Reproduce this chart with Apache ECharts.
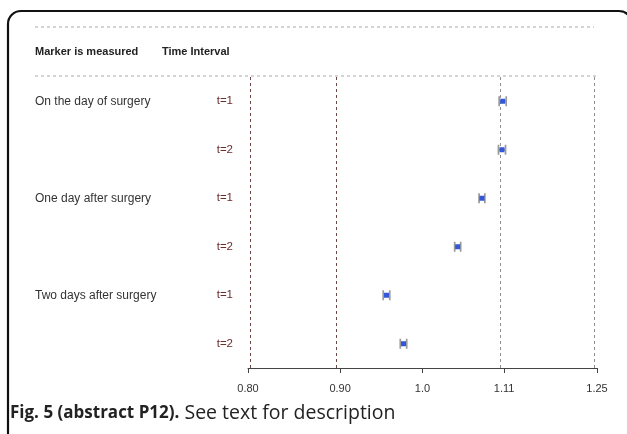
<!DOCTYPE html>
<html><head><meta charset="utf-8">
<script src="https://cdn.jsdelivr.net/npm/echarts@6/dist/echarts.min.js"></script>
<style>html,body{margin:0;padding:0;background:#fff}#c{width:627px;height:434px}</style>
</head><body><div id="c"></div>
<script>
// ---- data ----
const groups = ['On the day of surgery', '', 'One day after surgery', '', 'Two days after surgery', ''];
const intervals = ['t=1', 't=2', 't=1', 't=2', 't=1', 't=2'];
const estimates = [1.108, 1.107, 1.079, 1.046, 0.955, 0.976];
const lowers = [1.103, 1.102, 1.075, 1.042, 0.951, 0.972];
const uppers = [1.113, 1.112, 1.083, 1.050, 0.959, 0.980];
const tickValues = [0.80, 0.90, 1.0, 1.11, 1.25];
const tickLabels = ['0.80', '0.90', '1.0', '1.11', '1.25'];
const refLines = [0.80, 0.90, 1.11, 1.25];
const headers = ['Marker is measured', 'Time Interval'];
const caption = ['Fig. 5 (abstract P12).', ' See text for description'];

const L = Math.log;
const tickLn = tickValues.map(L);
const seriesData = estimates.map((e, i) => [L(e), i, L(lowers[i]), L(uppers[i])]);

const chart = echarts.init(document.getElementById('c'), null, {renderer: 'canvas'});
const FONT = '"Liberation Sans", Arial, sans-serif';
chart.setOption({
  animation: false,
  grid: {left: 248, right: 30, top: 77, bottom: 66, outerBoundsMode: 'none', containLabel: false},
  xAxis: {
    type: 'value', min: L(0.8), max: L(1.25),
    axisLine: {show: true, onZero: false, lineStyle: {color: '#444', width: 1}},
    axisTick: {show: true, customValues: tickLn, length: 5, lineStyle: {color: '#444'}},
    axisLabel: {customValues: tickLn, margin: 15, color: '#333', fontSize: 11, fontFamily: FONT,
      formatter: v => { let k = 0, d = 1e9; tickLn.forEach((t, i) => { if (Math.abs(t - v) < d) { d = Math.abs(t - v); k = i; } }); return tickLabels[k]; }},
    splitLine: {show: false}
  },
  yAxis: [{
    type: 'category', data: intervals, inverse: true,
    axisLine: {show: false}, axisTick: {show: false}, splitLine: {show: false},
    axisLabel: {margin: 15, color: '#6b2e2e', fontSize: 11.5, fontFamily: FONT}
  }, {
    type: 'category', data: groups, inverse: true, position: 'left',
    axisLine: {show: false}, axisTick: {show: false}, splitLine: {show: false},
    axisLabel: {margin: 213, align: 'left', color: '#333', fontSize: 12, fontFamily: FONT}
  }],
  series: [{
    type: 'custom',
    yAxisIndex: 0,
    data: seriesData,
    encode: {x: [0, 2, 3], y: 1},
    renderItem: function (params, api) {
      const y = api.coord([0, api.value(1)])[1];
      const xe = api.coord([api.value(0), 0])[0];
      const xl = api.coord([api.value(2), 0])[0];
      const xu = api.coord([api.value(3), 0])[0];
      const h = 5;
      const st = {stroke: '#9a9a9a', lineWidth: 1.7};
      return {type: 'group', children: [
        {type: 'line', shape: {x1: xl, y1: y - h, x2: xl, y2: y + h}, style: st},
        {type: 'line', shape: {x1: xu, y1: y - h, x2: xu, y2: y + h}, style: st},
        {type: 'line', shape: {x1: xl, y1: y, x2: xu, y2: y}, style: st},
        {type: 'rect', shape: {x: xe - 2.5, y: y - 2.5, width: 5, height: 5}, style: {fill: '#3357d6'}}
      ]};
    },
    markLine: {
      silent: true, symbol: 'none', label: {show: false},
      lineStyle: {type: [3, 3], width: 1},
      data: refLines.map(v => ({xAxis: L(v), lineStyle: {color: v < 1 ? '#6a4848' : '#8f8f8f', type: [3, 3], width: 1}}))
    },
    z: 5
  }],
  graphic: [
    {type: 'rect', shape: {x: 8, y: 11, width: 624, height: 440, r: 13}, style: {fill: null, stroke: '#111', lineWidth: 2.2}, silent: true},
    {type: 'line', shape: {x1: 35, y1: 27, x2: 594, y2: 27}, style: {stroke: '#aaa', lineDash: [3, 3], lineWidth: 1}},
    {type: 'line', shape: {x1: 35, y1: 76, x2: 597, y2: 76}, style: {stroke: '#aaa', lineDash: [3, 3], lineWidth: 1}},
    {type: 'text', left: 35, top: 46, style: {text: headers[0], font: 'bold 11px ' + FONT, fill: '#222'}},
    {type: 'text', left: 162, top: 46, style: {text: headers[1], font: 'bold 11px ' + FONT, fill: '#222'}},
    {type: 'text', left: 10, top: 403, style: {
      text: '{b|' + caption[0] + '}{n|' + caption[1] + '}',
      rich: {
        b: {font: 'bold 17px "Open Sans", sans-serif', fill: '#222'},
        n: {font: '19.5px "Open Sans", sans-serif', fill: '#222'}
      }}}
  ]
});
</script></body></html>
